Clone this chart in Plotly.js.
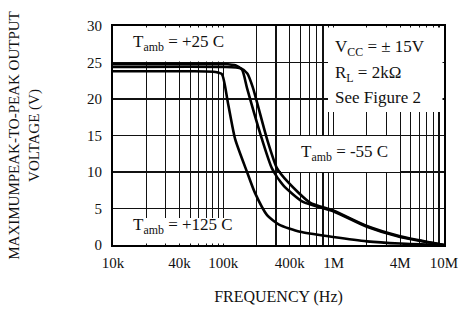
<!DOCTYPE html>
<html>
<head>
<meta charset="utf-8">
<script src="https://cdn.plot.ly/plotly-3.0.1.min.js"></script>
<style>html,body{margin:0;padding:0;background:#fff;}#chart{width:462px;height:309px;}</style>
</head>
<body>
<div id="chart"></div>
<script>
// Frequency (Hz) and max peak-to-peak output voltage (V) for each ambient temperature
const freqP125 = [1e4, 5e4, 8.5e4, 9.7e4, 1.1e5, 1.28e5, 1.64e5, 1.94e5, 2.49e5, 3.2e5, 4.96e5, 9.9e5, 2e6, 4e6, 1e7];
const voltP125 = [23.8, 23.8, 23.7, 23.4, 19.5, 14.5, 10.0, 7.1, 4.1, 2.8, 1.8, 1.1, 0.5, 0.2, 0];

const freqP25 = [1e4, 1e5, 1.3e5, 1.48e5, 1.64e5, 2.24e5, 2.76e5, 3.48e5, 5.28e5, 1e6, 2e6, 4e6, 1e7];
const voltP25 = [24.8, 24.8, 24.6, 24.0, 21.5, 14.5, 10.5, 8.2, 5.9, 4.6, 2.5, 1.1, 0];

const freqM55 = [1e4, 1e5, 1.45e5, 1.65e5, 1.85e5, 2.49e5, 3.07e5, 3.86e5, 6.1e5, 1e6, 2e6, 4e6, 1e7];
const voltM55 = [24.4, 24.4, 24.2, 23.5, 21.6, 14.5, 10.5, 8.6, 5.8, 4.7, 2.6, 1.2, 0];

const xTickVals = [1e4, 4e4, 1e5, 4e5, 1e6, 4e6, 1e7];
const xTickText = ['10k', '40k', '100k', '400k', '1M', '4M', '10M'];
const yTickVals = [0, 5, 10, 15, 20, 25, 30];

const FONT = '"Liberation Serif", "Times New Roman", serif';
const lineStyle = {color: '#000', width: 2.6, shape: 'spline', smoothing: 0.6};

const traces = [
  {x: freqP125, y: voltP125, name: 'Tamb = +125 C', mode: 'lines', line: lineStyle},
  {x: freqP25, y: voltP25, name: 'Tamb = +25 C', mode: 'lines', line: lineStyle},
  {x: freqM55, y: voltM55, name: 'Tamb = -55 C', mode: 'lines', line: lineStyle}
];

function px2x(p) { return (p - 113) / 331; }
function px2y(p) { return (245 - p) / 219; }

// white label backgrounds that blank out the grid behind the texts
const whiteBox = (x0, x1, y0, y1) => ({
  type: 'rect', xref: 'paper', yref: 'paper', layer: 'above',
  x0: px2x(x0), x1: px2x(x1), y0: px2y(y1), y1: px2y(y0),
  fillcolor: '#fff', line: {width: 0}
});

const NB = '\u00a0';
const ann = (text, xp, yp, anchor) => ({
  text: text, xref: 'paper', yref: 'paper', x: px2x(xp), y: px2y(yp),
  xanchor: anchor || 'center', yanchor: 'middle', showarrow: false,
  font: {family: FONT, size: 17, color: '#111'}
});

const layout = {
  width: 462, height: 309,
  margin: {l: 113, r: 18, t: 26, b: 64},
  paper_bgcolor: '#fff', plot_bgcolor: '#fff',
  showlegend: false,
  font: {family: FONT, color: '#111', size: 15},
  xaxis: {
    type: 'log', range: [4, 7],
    tickmode: 'array', tickvals: xTickVals, ticktext: xTickText,
    ticks: '', ticklabelstandoff: 3,
    showgrid: true, gridcolor: '#111', gridwidth: 1.1,
    minor: {dtick: 'D1', showgrid: true, gridcolor: '#111', gridwidth: 1.1},
    showline: true, linecolor: '#000', linewidth: 2, mirror: true,
    zeroline: false,
    tickfont: {family: FONT, size: 15, color: '#111'},
    title: {text: 'FREQUENCY (Hz)', font: {family: FONT, size: 16, color: '#111'}, standoff: 21}
  },
  yaxis: {
    range: [0, 30], tickmode: 'array', tickvals: yTickVals,
    ticks: '', ticklabelstandoff: 6,
    showgrid: true, gridcolor: '#111', gridwidth: 1.1,
    showline: true, linecolor: '#000', linewidth: 2, mirror: true,
    zeroline: false,
    tickfont: {family: FONT, size: 15, color: '#111'},
    title: {text: 'MAXIMUMPEAK-TO-PEAK OUTPUT<br>VOLTAGE (V)', font: {family: FONT, size: 15, color: '#111'}, standoff: 44}
  },
  shapes: [
    whiteBox(114.5, 240, 27.5, 61.5),
    whiteBox(328, 442.5, 27.5, 112),
    whiteBox(281, 400, 136, 172),
    whiteBox(114.5, 246, 218, 243.5)
  ],
  annotations: [
    ann('T<sub>amb</sub>' + NB + '=' + NB + '+25' + NB + 'C', 178, 43),
    ann('V<sub>CC</sub> = ± 15V', 333, 48, 'left'),
    ann('R<sub>L</sub> = 2kΩ', 333, 74, 'left'),
    ann('See Figure 2', 333, 97, 'left'),
    ann('T<sub>amb</sub>' + NB + '=' + NB + '-55' + NB + 'C', 344, 153),
    ann('T<sub>amb</sub>' + NB + '=' + NB + '+125' + NB + 'C', 183, 226)
  ]
};

Plotly.newPlot('chart', traces, layout, {staticPlot: true, displayModeBar: false});
</script>
</body>
</html>
